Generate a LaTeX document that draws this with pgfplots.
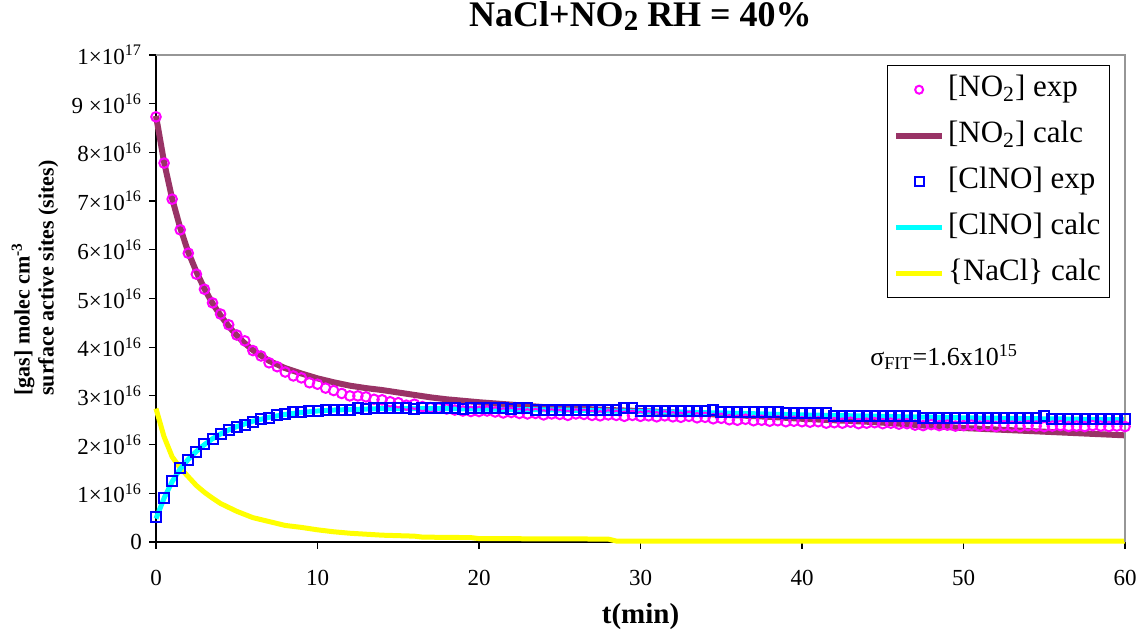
\documentclass[border=0pt]{standalone}
\usepackage{fontspec}
\setmainfont{Liberation Serif}
\usepackage{pgfplots}
\pgfplotsset{compat=1.18}
\definecolor{plum}{RGB}{153,51,102}
\definecolor{frame}{RGB}{150,150,150}
\definecolor{mmag}{RGB}{255,0,255}
\definecolor{mcyan}{RGB}{0,255,255}
\definecolor{myel}{RGB}{255,255,0}
\definecolor{mblue}{RGB}{0,0,255}
\begin{document}
\begin{tikzpicture}
\begin{axis}[
  name=ax,
  scale only axis,
  width=484.5pt, height=243.5pt,
  xmin=0, xmax=60, ymin=0, ymax=1e17,
  clip=false,
  axis lines*=left,
  axis line style={black, line width=0.8pt},
  tick align=outside,
  major tick length=3.5pt,
  tick style={black, line width=0.6pt},
  xtick={0,10,20,30,40,50,60},
  ytick={0,1e16,2e16,3e16,4e16,5e16,6e16,7e16,8e16,9e16,1e17},
  yticklabels={0,1×10\textsuperscript{16},2×10\textsuperscript{16},3×10\textsuperscript{16},4×10\textsuperscript{16},5×10\textsuperscript{16},6×10\textsuperscript{16},7×10\textsuperscript{16},8×10\textsuperscript{16},9 ×10\textsuperscript{16},1×10\textsuperscript{17}},
  scaled y ticks=false,
  /pgf/number format/assume math mode=true,
  xticklabel style={font=\fontsize{11.5}{12}\selectfont, yshift=-7pt},
  yticklabel style={font=\fontsize{11.5}{12}\selectfont},
  title={\textbf{NaCl+NO\raisebox{-2pt}{\fontsize{14.5}{14.5}\selectfont 2} RH = 40\%}},
  title style={at={(0.5,1)}, anchor=base, yshift=8pt, font=\fontsize{18}{20}\selectfont},
  xlabel={\textbf{t(min)}},
  xlabel style={at={(0.5,0)}, anchor=base, yshift=-40.5pt, font=\fontsize{14.5}{16}\selectfont},
  legend cell align=left,
  legend image code/.code={\draw[mark repeat=2,mark phase=2,#1] plot coordinates {(0pt,0pt) (11.5pt,0pt) (23pt,0pt)};},
  legend style={at={(0.985,0.979)}, anchor=north east, draw=black, line width=0.5pt,
    font=\fontsize{15.5}{17}\selectfont, inner sep=3pt, row sep=5pt,
    nodes={inner sep=1.5pt, text height=11pt, text depth=4pt}},
]
% NaCl calc
\addplot[forget plot, myel, line width=2.5pt] table {
0 27.4e15
0.5 21.6e15
1 17.5e15
1.5 15.2e15
2 13.4e15
2.5 11.6e15
3 10.2e15
3.5 9.0e15
4 7.9e15
5 6.3e15
6 5.0e15
7 4.2e15
8 3.4e15
9 3.0e15
10 2.5e15
11 2.1e15
12 1.8e15
13 1.6e15
14 1.4e15
16 1.2e15
16.5 1.0e15
19.5 0.9e15
20 0.7e15
28 0.6e15
28.5 0.2e15
60 0.2e15
};
% NO2 calc
\addplot[forget plot, plum, line width=3pt] table {
0 87.5e15
0.5 78e15
1 70.5e15
1.5 64.5e15
2 59.5e15
2.5 55.5e15
3 52e15
3.5 49e15
4 46.5e15
4.5 44.3e15
5 42.4e15
5.5 40.8e15
6 39.4e15
7 37.2e15
8 35.7e15
9 34.6e15
10 33.6e15
11 32.8e15
12 32.1e15
13 31.6e15
14 31.2e15
15 30.7e15
16 30.2e15
17 29.7e15
18 29.3e15
19 29.0e15
20 28.7e15
22 28.2e15
24 27.7e15
26 27.4e15
28 27.1e15
30 26.9e15
32 26.6e15
34 26.3e15
36 26.0e15
38 25.7e15
40 25.3e15
42 25.0e15
44 24.7e15
46 24.3e15
48 23.8e15
50 23.4e15
52 23.1e15
54 22.8e15
56 22.5e15
58 22.2e15
60 21.9e15
};
% ClNO calc
\addplot[forget plot, mcyan, line width=2.5pt] table {
0 4.8e15
0.5 9.0e15
1 12.4e15
1.5 15.0e15
2 17.0e15
2.5 18.6e15
3 20.0e15
3.5 21.2e15
4 22.2e15
4.5 23.0e15
5 23.7e15
6 24.8e15
7 25.6e15
8 26.2e15
9 26.6e15
10 26.9e15
11 27.1e15
12 27.2e15
14 27.4e15
16 27.4e15
18 27.4e15
20 27.3e15
25 27.1e15
30 26.8e15
35 26.5e15
40 26.1e15
45 25.8e15
50 25.5e15
55 25.3e15
60 25.1e15
};
% NO2 exp
\addplot[forget plot, only marks, mark=o, mark size=2.4pt, mark options={mmag, line width=1pt}] table {
0 87.3e15
0.5 77.8e15
1 70.4e15
1.5 64.1e15
2 59.3e15
2.5 55.0e15
3 51.9e15
3.5 49.1e15
4 46.8e15
4.5 44.6e15
5 42.5e15
5.5 41.3e15
6 39.3e15
6.5 38.2e15
7 36.8e15
7.5 36.0e15
8 34.9e15
8.5 34.1e15
9 33.7e15
9.5 32.7e15
10 32.4e15
10.5 31.6e15
11 31.1e15
11.5 30.5e15
12 30.0e15
12.5 30.0e15
13 29.8e15
13.5 29.3e15
14 29.2e15
14.5 28.8e15
15 28.6e15
15.5 28.1e15
16 28.3e15
16.5 27.8e15
17 27.6e15
17.5 27.5e15
18 27.3e15
18.5 27.1e15
19 26.9e15
19.5 26.8e15
20 26.8e15
20.5 26.9e15
21 26.7e15
21.5 26.5e15
22 26.6e15
22.5 26.4e15
23 26.3e15
23.5 26.4e15
24 26.1e15
24.5 26.3e15
25 26.2e15
25.5 26.0e15
26 26.3e15
26.5 26.2e15
27 26.0e15
27.5 25.9e15
28 26.1e15
28.5 26.0e15
29 25.8e15
29.5 26.0e15
30 25.8e15
30.5 25.9e15
31 25.7e15
31.5 25.9e15
32 25.7e15
32.5 25.6e15
33 25.8e15
33.5 25.5e15
34 25.6e15
34.5 25.3e15
35 25.4e15
35.5 25.1e15
36 25.0e15
36.5 25.2e15
37 24.9e15
37.5 25.0e15
38 24.8e15
38.5 24.9e15
39 24.7e15
39.5 24.8e15
40 24.7e15
40.5 24.6e15
41 24.7e15
41.5 24.4e15
42 24.5e15
42.5 24.4e15
43 24.6e15
43.5 24.3e15
44 24.4e15
44.5 24.5e15
45 24.3e15
45.5 24.4e15
46 24.2e15
46.5 24.3e15
47 24.0e15
47.5 23.9e15
48 24.1e15
48.5 23.9e15
49 24.0e15
49.5 23.8e15
50 23.9e15
50.5 24.0e15
51 23.8e15
51.5 23.9e15
52 23.7e15
52.5 23.9e15
53 23.8e15
53.5 23.7e15
54 23.9e15
54.5 23.8e15
55 23.7e15
55.5 23.8e15
56 23.9e15
56.5 23.7e15
57 23.8e15
57.5 23.7e15
58 23.9e15
58.5 23.8e15
59 23.7e15
59.5 23.8e15
60 23.7e15
};
% ClNO exp
\addplot[forget plot, only marks, mark=square, mark size=2.5pt, mark options={mblue, line width=1pt}] table {
0 5.1e15
0.5 9.1e15
1 12.6e15
1.5 15.1e15
2 16.8e15
2.5 18.5e15
3 20.1e15
3.5 21.1e15
4 22.1e15
4.5 22.9e15
5 23.6e15
5.5 24.0e15
6 24.6e15
6.5 25.2e15
7 25.4e15
7.5 26.1e15
8 26.3e15
8.5 26.6e15
9 26.6e15
9.5 27.0e15
10 27.0e15
10.5 27.1e15
11 27.1e15
11.5 27.2e15
12 27.2e15
12.5 27.5e15
13 27.4e15
13.5 27.5e15
14 27.5e15
14.5 27.6e15
15 27.5e15
15.5 27.5e15
16 27.4e15
16.5 27.5e15
17 27.5e15
17.5 27.6e15
18 27.5e15
18.5 27.5e15
19 27.4e15
19.5 27.5e15
20 27.5e15
20.5 27.6e15
21 27.5e15
21.5 27.5e15
22 27.4e15
22.5 27.5e15
23 27.5e15
23.5 27.1e15
24 27.1e15
24.5 27.2e15
25 27.1e15
25.5 27.1e15
26 27.1e15
26.5 27.2e15
27 27.1e15
27.5 27.1e15
28 27.1e15
28.5 27.1e15
29 27.6e15
29.5 27.6e15
30 26.9e15
30.5 26.9e15
31 26.9e15
31.5 26.9e15
32 26.9e15
32.5 26.9e15
33 26.9e15
33.5 26.9e15
34 26.9e15
34.5 27.2e15
35 26.6e15
35.5 26.6e15
36 26.6e15
36.5 26.6e15
37 26.6e15
37.5 26.6e15
38 26.6e15
38.5 26.6e15
39 26.4e15
39.5 26.4e15
40 26.4e15
40.5 26.4e15
41 26.4e15
41.5 26.4e15
42 25.9e15
42.5 25.9e15
43 25.9e15
43.5 25.9e15
44 25.9e15
44.5 25.9e15
45 25.9e15
45.5 25.9e15
46 25.9e15
46.5 25.9e15
47 25.9e15
47.5 25.4e15
48 25.4e15
48.5 25.4e15
49 25.4e15
49.5 25.4e15
50 25.4e15
50.5 25.4e15
51 25.4e15
51.5 25.4e15
52 25.4e15
52.5 25.4e15
53 25.4e15
53.5 25.4e15
54 25.4e15
54.5 25.4e15
55 25.8e15
55.5 25.2e15
56 25.2e15
56.5 25.2e15
57 25.2e15
57.5 25.2e15
58 25.2e15
58.5 25.2e15
59 25.2e15
59.5 25.2e15
60 25.2e15
};
\addlegendimage{only marks, mark=o, mark size=2pt, mark options={mmag, line width=1pt}}
\addlegendentry{[NO\textsubscript{2}] exp}
\addlegendimage{plum, line width=3pt}
\addlegendentry{[NO\textsubscript{2}] calc}
\addlegendimage{only marks, mark=square, mark size=2.2pt, mark options={mblue, line width=1pt}}
\addlegendentry{[ClNO] exp}
\addlegendimage{mcyan, line width=2.5pt}
\addlegendentry{[ClNO] calc}
\addlegendimage{myel, line width=2.5pt}
\addlegendentry{\{NaCl\} calc}
% gray frame top/right
\draw[frame, line width=0.8pt] (rel axis cs:0,1) -- (rel axis cs:1,1) -- (rel axis cs:1,0);
% annotation
\node[font=\fontsize{13}{14}\selectfont] at (axis cs:48.8,38e15) {σ\textsubscript{FIT}=1.6x10\textsuperscript{15}};
% y label
\node[rotate=90, anchor=west, inner sep=0pt, align=left, font=\bfseries\fontsize{11}{12}\selectfont]
  at ([xshift=-60.5pt]rel axis cs:0,0.2998) {[gas] molec cm\textsuperscript{-3}\\surface active sites (sites)};
\end{axis}
\pgfresetboundingbox
\path[use as bounding box] ([xshift=-78pt,yshift=-46.5pt]ax.south west) rectangle ([xshift=8.5pt,yshift=27.5pt]ax.north east);
\end{tikzpicture}
\end{document}
